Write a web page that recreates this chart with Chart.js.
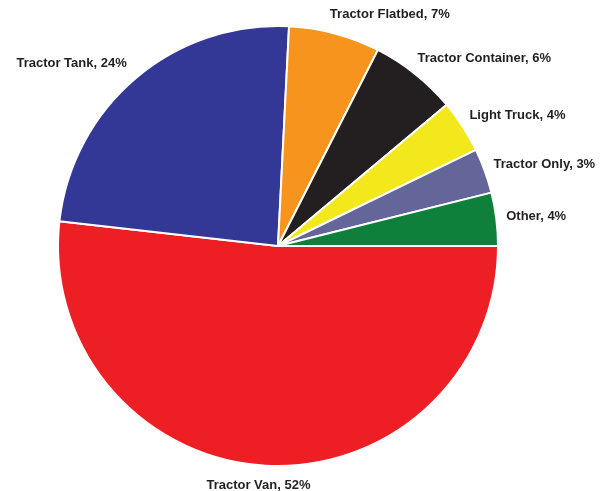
<!DOCTYPE html>
<html>
<head>
<meta charset="utf-8">
<script src="https://cdn.jsdelivr.net/npm/chart.js@4"></script>
<style>
  html, body { margin: 0; padding: 0; background: #ffffff; }
  #wrap { width: 600px; height: 491px; position: relative; }
</style>
</head>
<body>
<div id="wrap"><canvas id="c" width="600" height="491"></canvas></div>
<script>
// Drawn clockwise starting at 3 o'clock
const categories = ['Tractor Van', 'Tractor Tank', 'Tractor Flatbed', 'Tractor Container', 'Light Truck', 'Tractor Only', 'Other'];
const shares = [51.8, 24.0, 6.7, 6.4, 3.9, 3.3, 3.9];
const sliceColors = ['#ed1f24', '#333795', '#f7941d', '#231f20', '#f2e81c', '#646598', '#0e803c'];

const labelPlugin = {
  id: 'outsideLabels',
  afterDatasetsDraw(chart) {
    const ctx = chart.ctx;
    const meta = chart.getDatasetMeta(0);
    const data = chart.data.datasets[0].data;
    const total = data.reduce((a, b) => a + b, 0);
    ctx.save();
    ctx.font = 'bold 13px "Liberation Sans", Arial, sans-serif';
    ctx.fillStyle = '#231f20';
    ctx.textBaseline = 'middle';
    meta.data.forEach((arc, i) => {
      const p = arc.getProps(['x', 'y', 'startAngle', 'endAngle', 'outerRadius'], true);
      const mid = (p.startAngle + p.endAngle) / 2;
      const r = p.outerRadius + 20;
      const ax = p.x + r * Math.cos(mid);
      const ay = p.y + r * Math.sin(mid);
      const c = Math.cos(mid);
      const text = chart.data.labels[i] + ', ' + Math.round(data[i] / total * 100) + '%';
      let x = ax;
      if (c > 0.15) { ctx.textAlign = 'left'; x = ax - 10; }
      else if (c < -0.15) { ctx.textAlign = 'right'; x = ax + 4; }
      else { ctx.textAlign = 'center'; x = ax - 6; }
      ctx.fillText(text, x, ay);
    });
    ctx.restore();
  }
};

new Chart(document.getElementById('c'), {
  type: 'pie',
  data: {
    labels: categories,
    datasets: [{
      data: shares,
      backgroundColor: sliceColors,
      borderColor: '#ffffff',
      borderWidth: 2
    }]
  },
  options: {
    responsive: false,
    animation: false,
    rotation: 90,
    radius: 220,
    layout: { padding: { left: 0, right: 44, top: 1, bottom: 0 } },
    plugins: {
      legend: { display: false },
      tooltip: { enabled: false }
    }
  },
  plugins: [labelPlugin]
});
</script>
</body>
</html>
